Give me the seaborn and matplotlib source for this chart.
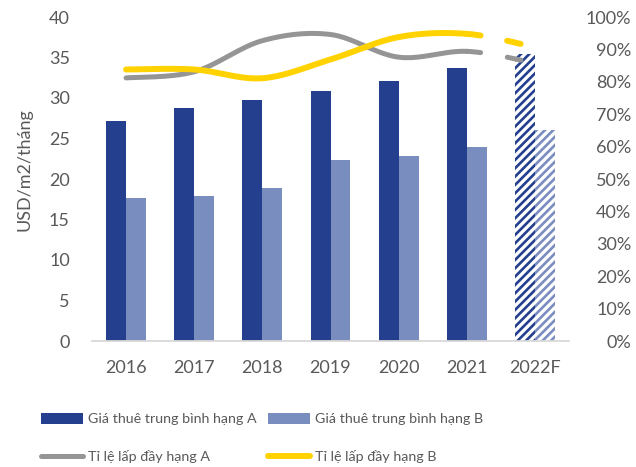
import numpy as np
import pandas as pd
import matplotlib
matplotlib.use("Agg")
import matplotlib.pyplot as plt
import seaborn as sns
from matplotlib.patches import Patch
from matplotlib.lines import Line2D

# ---- data ----
years = ["2016", "2017", "2018", "2019", "2020", "2021", "2022F"]
rent_a = [27.1, 28.8, 29.8, 30.9, 32.1, 33.7, 35.4]   # USD/m2/tháng
rent_b = [17.7, 17.9, 18.9, 22.4, 22.8, 24.0, 26.0]
occ_a = [81.2, 83.1, 92.7, 94.6, 87.6, 89.4, 85.8]    # %
occ_b = [83.8, 83.8, 81.1, 86.9, 93.8, 94.8, 90.7]

lbl_rent_a = "Giá thuê trung bình hạng A"
lbl_rent_b = "Giá thuê trung bình hạng B"
lbl_occ_a = "Tỉ lệ lấp đầy hạng A"
lbl_occ_b = "Tỉ lệ lấp đầy hạng B"
y_label = "USD/m2/tháng"

# ---- style ----
c_a = "#243F8E"
c_b = "#7A8DBF"
c_gray = "#959595"
c_yellow = "#FFD200"
c_text = "#595959"

sns.set_theme(style="white")
plt.rcParams["font.family"] = ["Lato", "DejaVu Sans"]
plt.rcParams["hatch.linewidth"] = 1.9
plt.rcParams["lines.scale_dashes"] = False

fig = plt.figure(figsize=(6.36, 4.67), dpi=100)
ax = fig.add_axes([92 / 636, 126 / 467, 477 / 636, 324 / 467])

df = pd.DataFrame({
    "year": years * 2,
    "rent": rent_a + rent_b,
    "grade": [lbl_rent_a] * len(years) + [lbl_rent_b] * len(years),
})
sns.barplot(data=df, x="year", y="rent", hue="grade",
            palette=[c_a, c_b], width=0.585, gap=0, saturation=1,
            legend=False, ax=ax, linewidth=0)

# forecast year drawn with diagonal hatching
for cont, col in zip(ax.containers, [c_a, c_b]):
    bar = cont[len(years) - 1]
    bar.set_facecolor("white")
    bar.set_edgecolor(col)
    bar.set_linewidth(0)
    bar.set_hatch("////")

ax.set_xlim(-0.5, len(years) - 0.5)
ax.set_ylim(0, 40)
ax.set_yticks(np.arange(0, 41, 5))
ax.set_xlabel("")
ax.set_ylabel(y_label, fontsize=13, color=c_text)
ax.yaxis.set_label_coords(-0.124, 0.53)
for s in ["top", "left", "right"]:
    ax.spines[s].set_visible(False)
ax.spines["bottom"].set_color("#D9D9D9")
ax.spines["bottom"].set_linewidth(1.3)
ax.tick_params(axis="both", length=0, labelsize=13, labelcolor=c_text)
ax.tick_params(axis="x", pad=14)
ax.tick_params(axis="y", pad=16)

# ---- occupancy on secondary axis ----
ax2 = ax.twinx()
ax2.set_ylim(0, 100)
ax2.set_yticks(np.arange(0, 101, 10))
ax2.set_yticklabels([f"{v}%" for v in range(0, 101, 10)])
for s in ["top", "left", "right", "bottom"]:
    ax2.spines[s].set_visible(False)
ax2.tick_params(axis="y", length=0, labelsize=13, labelcolor=c_text, pad=45)
for t in ax2.get_yticklabels():
    t.set_horizontalalignment("right")
ax2.grid(False)
ax.grid(False)


def smooth_segments(x, y, n=40):
    """Cardinal-spline (Bezier) segments through the given points."""
    x = np.asarray(x, float)
    y = np.asarray(y, float)
    m = len(x)
    tx = np.zeros(m)
    ty = np.zeros(m)
    for i in range(m):
        i0 = max(i - 1, 0)
        i1 = min(i + 1, m - 1)
        tx[i] = (x[i1] - x[i0]) / 6
        ty[i] = (y[i1] - y[i0]) / 6
    segs = []
    t = np.linspace(0, 1, n)[:, None]
    for i in range(m - 1):
        p0 = np.array([x[i], y[i]])
        p3 = np.array([x[i + 1], y[i + 1]])
        p1 = p0 + np.array([tx[i], ty[i]])
        p2 = p3 - np.array([tx[i + 1], ty[i + 1]])
        pts = ((1 - t) ** 3) * p0 + 3 * ((1 - t) ** 2) * t * p1 \
            + 3 * (1 - t) * t ** 2 * p2 + t ** 3 * p3
        segs.append(pts)
    return segs


xpos = np.arange(len(years))
for vals, col, lw in [(occ_a, c_gray, 3.6), (occ_b, c_yellow, 4.3)]:
    segs = smooth_segments(xpos, vals)
    solid = np.vstack(segs[:-1])
    ax2.plot(solid[:, 0], solid[:, 1], color=col, lw=lw,
             solid_capstyle="round", solid_joinstyle="round")
    fc = segs[-1]
    ax2.plot(fc[:, 0], fc[:, 1], color=col, lw=lw,
             linestyle=(0, (10.0, 19.5)), dash_capstyle="round")

# ---- legend ----
handles = [
    Patch(facecolor=c_a, edgecolor="none"),
    Line2D([], [], color=c_gray, lw=3.6, solid_capstyle="round"),
    Patch(facecolor=c_b, edgecolor="none"),
    Line2D([], [], color=c_yellow, lw=4.3, solid_capstyle="round"),
]
labels = [lbl_rent_a, lbl_occ_a, lbl_rent_b, lbl_occ_b]
leg = fig.legend(handles, labels, ncol=2, loc="upper left",
                 bbox_to_anchor=(34 / 636, 1 - 406 / 467), frameon=False,
                 fontsize=10.3, handlelength=2.95, handletextpad=0.35,
                 handleheight=0.75,
                 columnspacing=0.75, labelspacing=1.75, borderpad=0)
for txt in leg.get_texts():
    txt.set_color(c_text)

fig.savefig("out.png", dpi=100)
